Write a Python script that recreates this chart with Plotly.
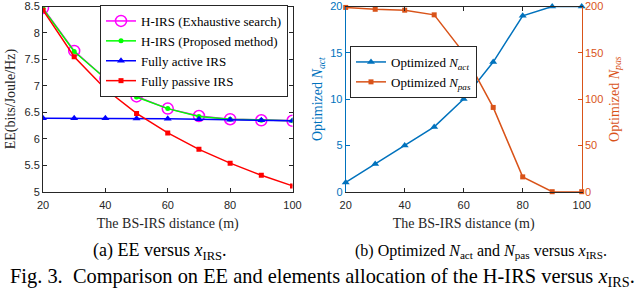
import plotly.graph_objects as go

# ---------------- data ----------------
dist = [20, 30, 40, 50, 60, 70, 80, 90, 100]
ee_exhaustive = [8.47, 7.66, 7.14, 6.80, 6.57, 6.43, 6.37, 6.35, 6.34]
ee_proposed = [8.46, 7.65, 7.14, 6.79, 6.57, 6.42, 6.37, 6.35, 6.34]
ee_active = [6.39, 6.39, 6.39, 6.385, 6.38, 6.37, 6.36, 6.35, 6.34]
ee_passive = [8.43, 7.55, 6.94, 6.48, 6.11, 5.80, 5.54, 5.31, 5.11]

n_act = [1, 3, 5, 7, 10, 14, 19, 20, 20]
n_pas = [199, 197, 196, 191, 150, 91, 16, 0, 0]

x_ticks = [20, 40, 60, 80, 100]
ee_ticks = [5, 5.5, 6, 6.5, 7, 7.5, 8, 8.5]
act_ticks = [0, 5, 10, 15, 20]
pas_ticks = [0, 50, 100, 150, 200]

W, H = 640, 289
SANS = "Liberation Sans, Arial, sans-serif"
SERIF = "Liberation Serif, Times New Roman, serif"
AX = "#262626"
BLUE_M = "#0072BD"
ORANGE_M = "#D95319"

def px(x):
    return x / W

def py(y):
    return 1 - y / H

fig = go.Figure()

# ---- left panel ----
fig.add_trace(go.Scatter(x=dist, y=ee_exhaustive, mode="lines+markers",
                         name="H-IRS (Exhaustive search)",
                         line=dict(color="#FF00FF", width=1.5),
                         marker=dict(symbol="circle-open", size=11, color="#FF00FF",
                                     line=dict(width=1.5, color="#FF00FF")),
                         xaxis="x", yaxis="y", legend="legend"))
fig.add_trace(go.Scatter(x=dist, y=ee_proposed, mode="lines+markers",
                         name="H-IRS (Proposed method)",
                         line=dict(color="#00FF00", width=1.5),
                         marker=dict(symbol="circle", size=5, color="#00FF00"),
                         xaxis="x", yaxis="y", legend="legend"))
fig.add_trace(go.Scatter(x=dist, y=ee_active, mode="lines+markers",
                         name="Fully active IRS",
                         line=dict(color="#0000FF", width=1.5),
                         marker=dict(symbol="triangle-up", size=7, color="#0000FF"),
                         xaxis="x", yaxis="y", legend="legend"))
fig.add_trace(go.Scatter(x=dist, y=ee_passive, mode="lines+markers",
                         name="Fully passive IRS",
                         line=dict(color="#FF0000", width=1.5),
                         marker=dict(symbol="square", size=5, color="#FF0000"),
                         xaxis="x", yaxis="y", legend="legend"))

# ---- right panel ----
fig.add_trace(go.Scatter(x=dist, y=n_act, mode="lines+markers",
                         name="Optimized <i>N</i><sub><i>act</i></sub>",
                         line=dict(color=BLUE_M, width=1.5),
                         marker=dict(symbol="triangle-up", size=7, color=BLUE_M),
                         xaxis="x2", yaxis="y2", legend="legend2", cliponaxis=False))
fig.add_trace(go.Scatter(x=dist, y=n_pas, mode="lines+markers",
                         name="Optimized <i>N</i><sub><i>pas</i></sub>",
                         line=dict(color=ORANGE_M, width=1.5),
                         marker=dict(symbol="square", size=5, color=ORANGE_M),
                         xaxis="x2", yaxis="y3", legend="legend2", cliponaxis=False))

left_dom = [px(43), px(292.5)]
right_dom = [px(345.7), px(581.7)]
y_dom = [py(191.7), py(6.5)]

common_x = dict(range=[20, 100], tickvals=x_ticks, ticks="inside", ticklen=4,
                showgrid=False, zeroline=False, showline=True, linewidth=1,
                linecolor=AX, tickcolor=AX, tickfont=dict(family=SANS, size=11, color=AX),
                mirror="ticks", automargin=False, ticklabelstandoff=3,
                title=dict(text="The BS-IRS distance (m)",
                           font=dict(family=SERIF, size=14, color=AX), standoff=8))

fig.update_layout(
    width=W, height=H, margin=dict(l=0, r=0, t=0, b=0, autoexpand=False),
    paper_bgcolor="white", plot_bgcolor="white",
    xaxis=dict(domain=left_dom, anchor="y", **common_x),
    yaxis=dict(domain=y_dom, anchor="x", range=[5, 8.5], tickvals=ee_ticks,
               ticks="inside", ticklen=4, showgrid=False, zeroline=False,
               showline=True, linewidth=1, linecolor=AX, tickcolor=AX, mirror="ticks",
               tickfont=dict(family=SANS, size=11, color=AX), automargin=False,
               title=dict(text="EE(bits/Joule/Hz)", font=dict(family=SERIF, size=14, color=AX),
                          standoff=5)),
    xaxis2=dict(domain=right_dom, anchor="y2", **common_x),
    yaxis2=dict(domain=y_dom, anchor="x2", range=[0, 20], tickvals=act_ticks,
                ticks="inside", ticklen=4, showgrid=False, zeroline=False,
                showline=True, linewidth=1, linecolor=BLUE_M, tickcolor=BLUE_M,
                tickfont=dict(family=SANS, size=11, color=BLUE_M), automargin=False,
                title=dict(text="Optimized <i>N</i><sub><i>act</i></sub>",
                           font=dict(family=SERIF, size=14, color=BLUE_M), standoff=4)),
    yaxis3=dict(overlaying="y2", anchor="x2", side="right", range=[0, 200],
                tickvals=pas_ticks, ticks="inside", ticklen=4, showgrid=False,
                zeroline=False, showline=True, linewidth=1, linecolor=ORANGE_M,
                tickcolor=ORANGE_M, tickfont=dict(family=SANS, size=11, color=ORANGE_M),
                automargin=False,
                title=dict(text="Optimized <i>N</i><sub><i>pas</i></sub>",
                           font=dict(family=SERIF, size=14, color=ORANGE_M), standoff=6)),
    legend=dict(x=px(288), y=py(5), xanchor="right", yanchor="top",
                bgcolor="white", bordercolor=AX, borderwidth=1,
                font=dict(family=SERIF, size=13, color="black"),
                tracegroupgap=0, itemwidth=30),
    legend2=dict(x=px(350), y=py(46), xanchor="left", yanchor="top",
                 bgcolor="white", bordercolor=AX, borderwidth=1,
                 font=dict(family=SERIF, size=13, color="black"),
                 tracegroupgap=0, itemwidth=30),
    showlegend=True,
)

fig.add_annotation(text="(a) EE versus <i>x</i><sub>IRS</sub>.", xref="paper", yref="paper",
                   x=px(160), y=py(251), xanchor="center", yanchor="middle", showarrow=False,
                   font=dict(family=SERIF, size=18, color="black"))
fig.add_annotation(text="(b) Optimized <i>N</i><sub>act</sub> and <i>N</i><sub>pas</sub> versus <i>x</i><sub>IRS</sub>.",
                   xref="paper", yref="paper",
                   x=px(481), y=py(251), xanchor="center", yanchor="middle", showarrow=False,
                   font=dict(family=SERIF, size=16, color="black"))
fig.add_annotation(text="Fig. 3.  Comparison on EE and elements allocation of the H-IRS versus <i>x</i><sub>IRS</sub>.",
                   xref="paper", yref="paper",
                   x=px(322), y=py(277), xanchor="center", yanchor="middle", showarrow=False,
                   font=dict(family=SERIF, size=20.4, color="black"))

fig.write_html("out.html", config={"displayModeBar": False},
               post_script="document.body.style.margin='0';document.body.style.overflow='hidden';")
